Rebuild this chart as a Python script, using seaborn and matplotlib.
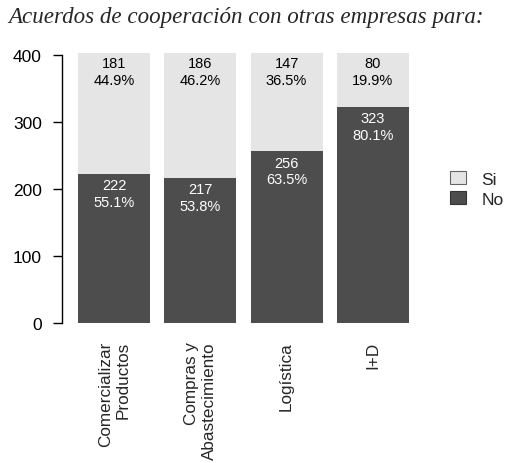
"""Stacked bar chart: cooperation agreements with other companies."""

import matplotlib.pyplot as plt
import pandas as pd
import seaborn as sns
from matplotlib.patches import Patch

sns.set_theme(style="ticks")
plt.rcParams["font.family"] = ["Liberation Sans", "DejaVu Sans"]

categories = ["Comercializar\nProductos", "Compras y\nAbastecimiento", "Logística", "I+D"]
si_counts = [181, 186, 147, 80]
no_counts = [222, 217, 256, 323]
si_pct = ["44.9%", "46.2%", "36.5%", "19.9%"]
no_pct = ["55.1%", "53.8%", "63.5%", "80.1%"]

LIGHT = "#e5e5e5"
DARK = "#4d4d4d"

df = pd.DataFrame({"cat": categories, "si": si_counts, "no": no_counts})
df["total"] = df["si"] + df["no"]

fig = plt.figure(figsize=(5.10, 4.64), dpi=100)
ax = fig.add_axes([62 / 510, 140 / 464, 0.711, 410 * 0.67 / 464])

sns.barplot(data=df, x="cat", y="total", color=LIGHT, width=0.834,
            saturation=1, errorbar=None, ax=ax, linewidth=0)
sns.barplot(data=df, x="cat", y="no", color=DARK, width=0.834,
            saturation=1, errorbar=None, ax=ax, linewidth=0)

for i, row in df.iterrows():
    ax.annotate(f"{row['si']}\n{si_pct[i]}", (i, row["total"]), xytext=(0, -2),
                textcoords="offset points", ha="center", va="top",
                fontsize=10.5, color="black", linespacing=1.25)
    ax.annotate(f"{row['no']}\n{no_pct[i]}", (i, row["no"]), xytext=(0, -3),
                textcoords="offset points", ha="center", va="top",
                fontsize=10.5, color="white", linespacing=1.25)

ax.set_xlim(-0.603, 3.6)
ax.set_ylim(0, 410)
ax.set_yticks([0, 100, 200, 300, 400])
ax.set_xlabel("")
ax.set_ylabel("")
for s in ["top", "right", "bottom"]:
    ax.spines[s].set_visible(False)
ax.spines["left"].set_bounds(0, 400)
ax.spines["left"].set_linewidth(1.0)
ax.spines["left"].set_color("black")
ax.tick_params(axis="y", length=6.5, width=1.0, pad=8, labelsize=12.5, colors="black")
ax.tick_params(axis="x", length=0, pad=13, labelsize=12.3)
for lab in ax.get_xticklabels():
    lab.set_rotation(90)
    lab.set_va("top")
    lab.set_ha("center")
    lab.set_multialignment("right")

handles = [Patch(facecolor=LIGHT, edgecolor="#666666", linewidth=0.8, label="Si"),
           Patch(facecolor=DARK, edgecolor="#333333", linewidth=0.8, label="No")]
fig.legend(handles=handles, loc="center left", bbox_to_anchor=(443 / 510, 1 - 190 / 464),
           frameon=False, fontsize=12.5, handlelength=0.9, handleheight=0.75,
           handletextpad=0.9, labelspacing=0.25, borderaxespad=0)

fig.text(8 / 510, 1 - 18 / 464, "Acuerdos de cooperación con otras empresas para:",
         family="Liberation Serif", style="italic", fontsize=16.6, va="center", ha="left")

fig.savefig("out.png", dpi=100)
